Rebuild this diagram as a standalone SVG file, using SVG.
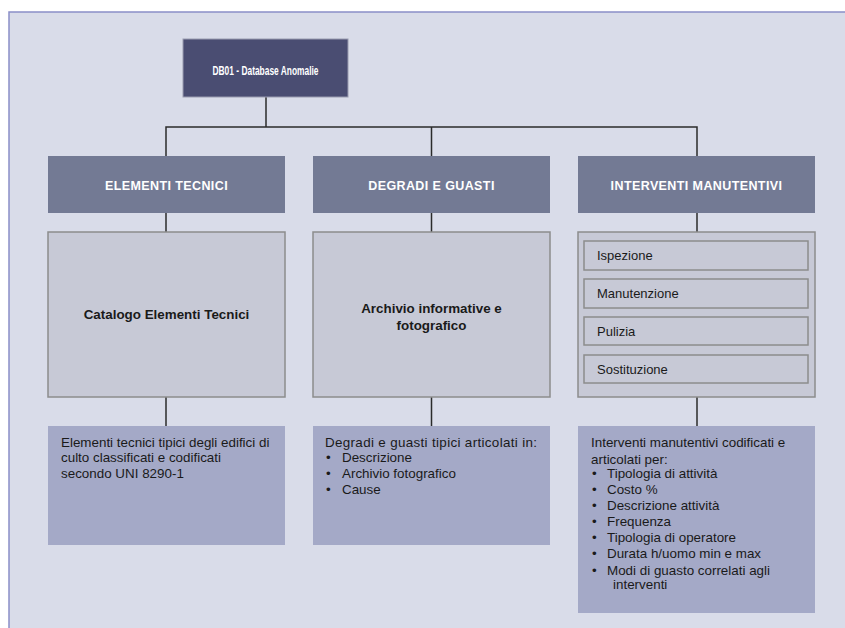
<svg xmlns="http://www.w3.org/2000/svg" width="845" height="628" viewBox="0 0 845 628">
<style>
  .panel{fill:#d9dce9;stroke:#8a8fc8;stroke-width:1.5}
  .top{fill:#4a4d72;stroke:#9a9cb0;stroke-width:1}
  .hdr{fill:#737a94}
  .gray{fill:#c7c9d6;stroke:#8c8c8c;stroke-width:1.5}
  .inner{fill:#c7c9d6;stroke:#8c8c8c;stroke-width:1.5}
  .desc{fill:#a4a9c7}
  .conn{fill:none;stroke:#2b2b2b;stroke-width:1.5}
  text{font-family:"Liberation Sans",Arial,sans-serif;fill:#1a1a1a}
  .wt{fill:#ffffff;font-weight:bold}
  .b{font-weight:bold;font-size:13.4px}
  .t{font-size:13px}
  .d{font-size:13.4px}
</style>
<rect class="panel" x="9" y="12" width="845" height="630"/>
<g id="connectors">
  <path class="conn" d="M266 97V127M166 213V127H697V213M431.5 127V156"/>
  <path class="conn" d="M166 213V232M166 397V426M431.5 213V232M431.5 397V426M697 213V232M697 397V426"/>
</g>
<g id="n-db01">
  <rect class="top" x="183" y="39" width="165" height="58"/>
  <text class="wt" x="265.5" y="74.5" font-size="12.8" text-anchor="middle" textLength="106" lengthAdjust="spacingAndGlyphs">DB01 - Database Anomalie</text>
</g>
<g id="h-elementi">
  <rect class="hdr" x="48" y="156" width="237" height="57"/>
  <text class="wt" x="166.5" y="189.5" font-size="12.5" text-anchor="middle" letter-spacing="0.4">ELEMENTI TECNICI</text>
</g>
<g id="h-degradi">
  <rect class="hdr" x="313" y="156" width="237" height="57"/>
  <text class="wt" x="431.5" y="189.5" font-size="12.5" text-anchor="middle" letter-spacing="0.4">DEGRADI E GUASTI</text>
</g>
<g id="h-interventi">
  <rect class="hdr" x="578" y="156" width="237" height="57"/>
  <text class="wt" x="696.5" y="189.5" font-size="12.5" text-anchor="middle" letter-spacing="0.4">INTERVENTI MANUTENTIVI</text>
</g>
<g id="n-catalogo">
  <rect class="gray" x="48" y="232" width="237" height="165"/>
  <text class="b" x="166.5" y="318.5" text-anchor="middle">Catalogo Elementi Tecnici</text>
</g>
<g id="n-archivio">
  <rect class="gray" x="313" y="232" width="237" height="165"/>
  <text class="b" x="431.5" y="312.5" text-anchor="middle">Archivio informative e</text>
  <text class="b" x="431.5" y="329.5" text-anchor="middle">fotografico</text>
</g>
<g id="n-tipi">
  <rect class="gray" x="578" y="232" width="237" height="165"/>
  <rect class="inner" x="584" y="241" width="224" height="29"/>
  <text class="t" x="597" y="260">Ispezione</text>
  <rect class="inner" x="584" y="279" width="224" height="29"/>
  <text class="t" x="597" y="298">Manutenzione</text>
  <rect class="inner" x="584" y="317" width="224" height="28"/>
  <text class="t" x="597" y="336">Pulizia</text>
  <rect class="inner" x="584" y="355" width="224" height="28"/>
  <text class="t" x="597" y="374">Sostituzione</text>
</g>
<g id="d-elementi">
  <rect class="desc" x="48" y="426" width="237" height="119"/>
  <text class="d" x="61" y="446.5">Elementi tecnici tipici degli edifici di</text>
  <text class="d" x="61" y="462">culto classificati e codificati</text>
  <text class="d" x="61" y="477.5">secondo UNI 8290-1</text>
</g>
<g id="d-degradi">
  <rect class="desc" x="313" y="426" width="237" height="119"/>
  <text class="d" x="325" y="446.5" textLength="212" lengthAdjust="spacing">Degradi e guasti tipici articolati in:</text>
  <text class="d" x="326" y="462">•</text><text class="d" x="342" y="462">Descrizione</text>
  <text class="d" x="326" y="477.5">•</text><text class="d" x="342" y="477.5">Archivio fotografico</text>
  <text class="d" x="326" y="493.5">•</text><text class="d" x="342" y="493.5">Cause</text>
</g>
<g id="d-interventi">
  <rect class="desc" x="578" y="426" width="237" height="187"/>
  <text class="d" x="591" y="446.5">Interventi manutentivi codificati e</text>
  <text class="d" x="591" y="463.5">articolati per:</text>
  <text class="d" x="592" y="477.5">•</text><text class="d" x="607" y="477.5">Tipologia di attività</text>
  <text class="d" x="592" y="493.5">•</text><text class="d" x="607" y="493.5">Costo %</text>
  <text class="d" x="592" y="509.5">•</text><text class="d" x="607" y="509.5">Descrizione attività</text>
  <text class="d" x="592" y="526">•</text><text class="d" x="607" y="526">Frequenza</text>
  <text class="d" x="592" y="541.5">•</text><text class="d" x="607" y="541.5">Tipologia di operatore</text>
  <text class="d" x="592" y="557.5">•</text><text class="d" x="607" y="557.5">Durata h/uomo min e max</text>
  <text class="d" x="592" y="574.5">•</text><text class="d" x="607" y="574.5">Modi di guasto correlati agli</text>
  <text class="d" x="613" y="589">interventi</text>
</g>
</svg>
